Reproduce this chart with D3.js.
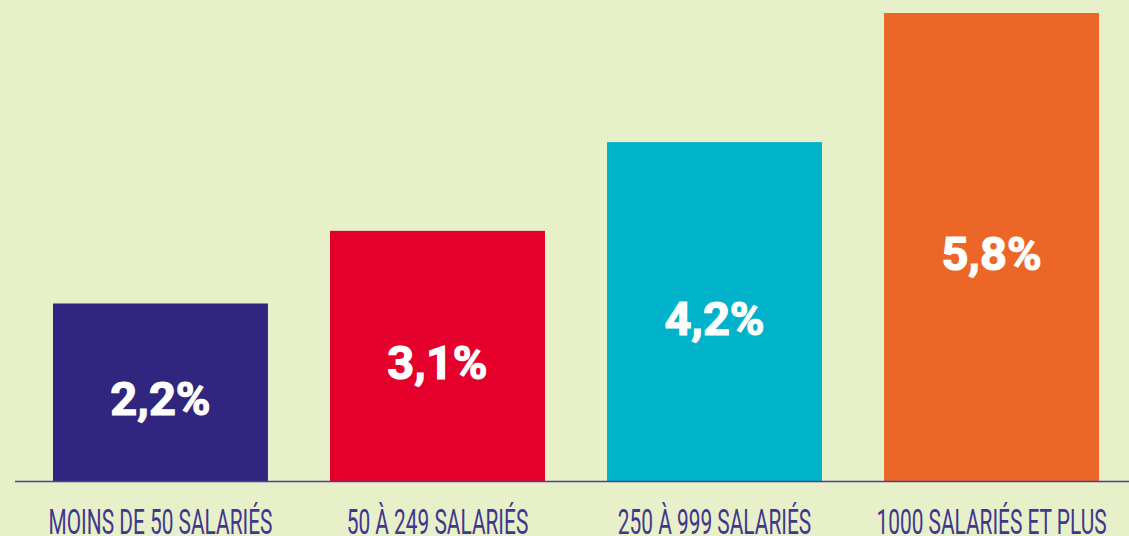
<!DOCTYPE html>
<html>
<head>
<meta charset="utf-8">
<script src="https://cdn.jsdelivr.net/npm/d3@7"></script>
<style>
  html, body { margin: 0; padding: 0; background: #e8f0c9; overflow: hidden; }
  svg { display: block; }
</style>
</head>
<body>
<svg id="chart" width="1129" height="536"></svg>
<script>
// Share of employees by company size
const categories = ["MOINS DE 50 SALARIÉS", "50 À 249 SALARIÉS", "250 À 999 SALARIÉS", "1000 SALARIÉS ET PLUS"];
const values = [2.2, 3.1, 4.2, 5.8];
const valueLabels = ["2,2%", "3,1%", "4,2%", "5,8%"];
const colors = ["#31267f", "#e4002b", "#00b3cb", "#ec6727"];

const W = 1129, H = 536;
const svg = d3.select("#chart");

svg.append("rect").attr("width", W).attr("height", H).attr("fill", "#e8f0c9");

const x = d3.scaleBand()
  .domain(categories)
  .range([53, 1099])
  .paddingInner(0.224)
  .paddingOuter(0);

const y = d3.scaleLinear()
  .domain([0, d3.max(values)])
  .range([481, 13]);

const data = categories.map((c, i) => ({ cat: c, value: values[i], label: valueLabels[i], color: colors[i] }));

// bars
svg.selectAll("rect.bar")
  .data(data)
  .join("rect")
  .attr("class", "bar")
  .attr("x", d => x(d.cat))
  .attr("y", d => y(d.value))
  .attr("width", x.bandwidth())
  .attr("height", d => y(0) - y(d.value))
  .attr("fill", d => d.color);

// baseline
svg.append("line")
  .attr("x1", 15).attr("x2", W)
  .attr("y1", y(0) + 0.5).attr("y2", y(0) + 0.5)
  .attr("stroke", "#4a3f99")
  .attr("stroke-width", 1.6);

// value labels inside bars
svg.selectAll("text.val")
  .data(data)
  .join("text")
  .attr("class", "val")
  .attr("x", d => x(d.cat) + x.bandwidth() / 2)
  .attr("y", d => (y(d.value) + y(0)) / 2 + 23)
  .attr("text-anchor", "middle")
  .attr("fill", "#ffffff")
  .attr("stroke", "#ffffff")
  .attr("stroke-width", 1.2)
  .attr("font-family", "Roboto, 'Open Sans', sans-serif")
  .attr("font-weight", 700)
  .attr("font-size", 47)
  .text(d => d.label);

// category labels (condensed)
const squeeze = 0.58;
svg.append("g").selectAll("text.cat")
  .data(data)
  .join("text")
  .attr("class", "cat")
  .attr("transform", d => `translate(${x(d.cat) + x.bandwidth() / 2},534) scale(${squeeze},1)`)
  .attr("text-anchor", "middle")
  .attr("fill", "#3f3790")
  .attr("font-family", "Roboto, 'Open Sans', sans-serif")
  .attr("font-weight", 400)
  .attr("font-size", 36)
  .text(d => d.cat);
</script>
</body>
</html>
